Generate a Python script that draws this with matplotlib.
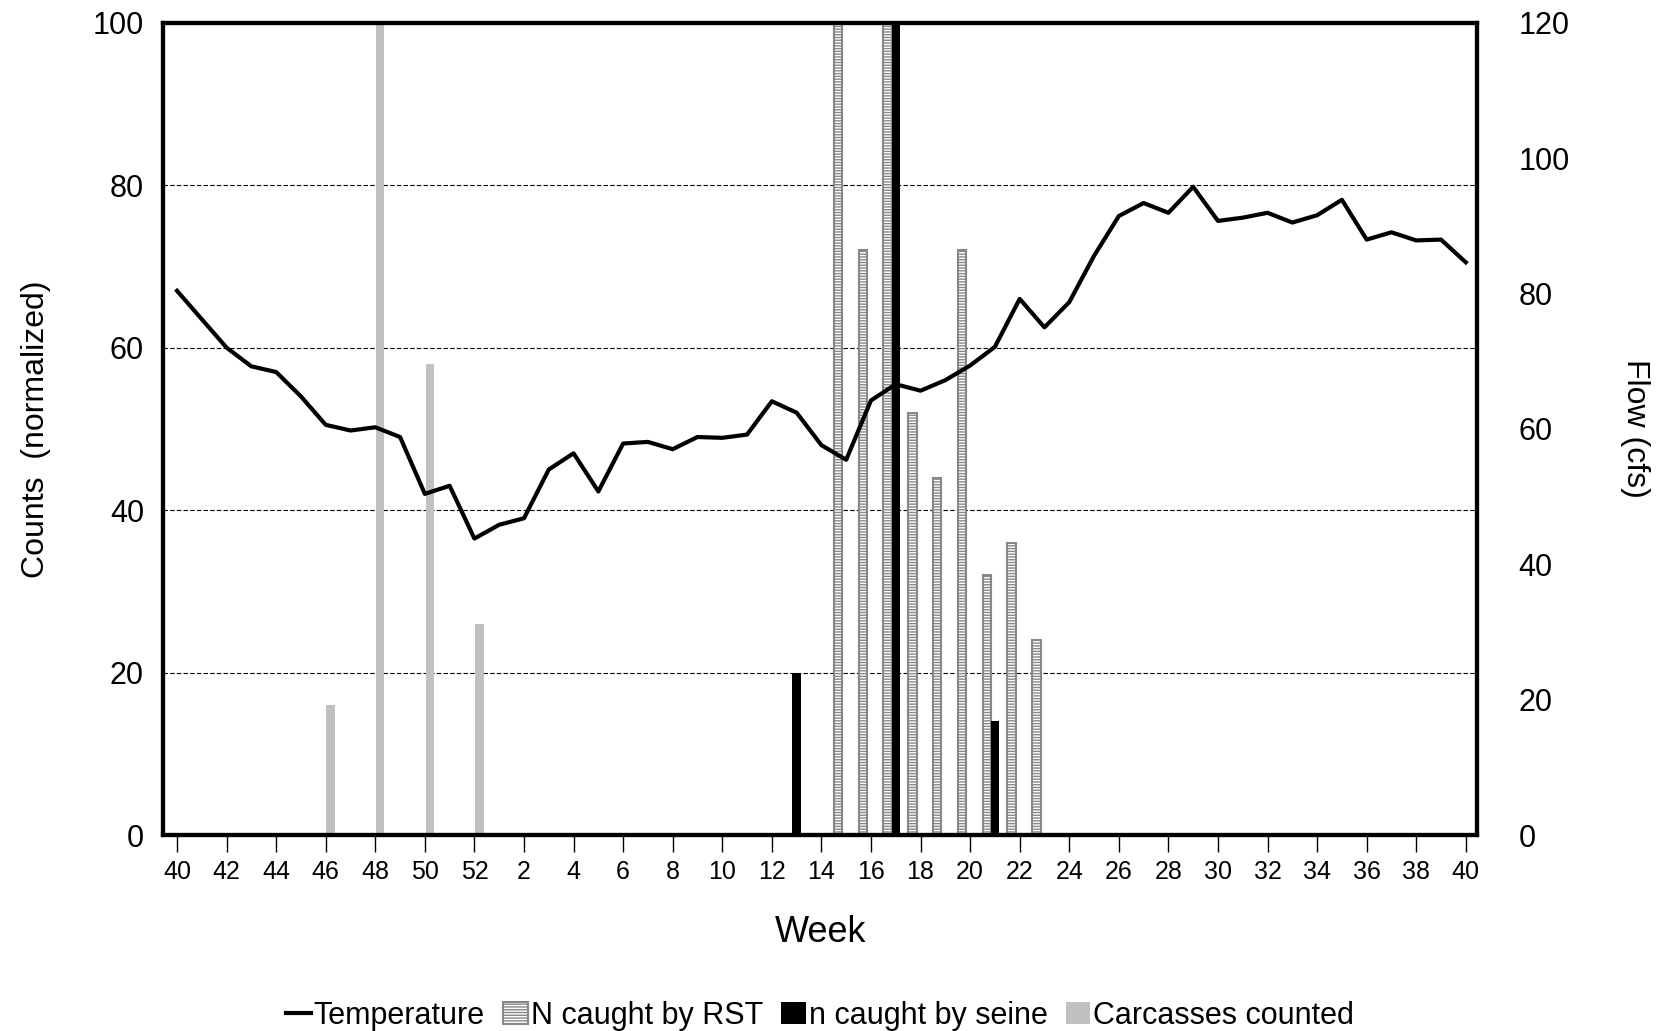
import matplotlib
matplotlib.use("Agg")
import matplotlib.pyplot as plt
import numpy as np

plt.rcParams['font.family'] = ['Liberation Sans', 'DejaVu Sans']
plt.rcParams['hatch.color'] = '#888888'

weeks = list(range(40, 53)) + list(range(1, 41))
temp = [67, 63.5, 60, 57.7, 57, 54, 50.5, 49.8, 50.2, 49, 42, 43, 36.5,
        38.2, 39, 45, 47, 42.3, 48.2, 48.4, 47.5, 49, 48.9, 49.3, 53.4, 52,
        48, 46.2, 53.5, 55.5, 54.7, 56, 57.8, 60.1, 66, 62.5, 65.6, 71.3, 76.2,
        77.8, 76.6, 79.8, 75.6, 76, 76.6, 75.4, 76.3, 78.2, 73.3, 74.2, 73.2, 73.3, 70.5]
rst_weeks = [15, 16, 17, 18, 19, 20, 21, 22, 23]
rst_vals = [110, 72, 110, 52, 44, 72, 32, 36, 24]
seine_weeks = [13, 17, 21]
seine_vals = [20, 110, 14]
carc_weeks = [46, 48, 50, 52]
carc_vals = [16, 110, 58, 26]

def idx(w, season2):
    return weeks.index(w, 13 if season2 else 0)

fig = plt.figure(figsize=(16.67, 10.31), dpi=100)
ax = fig.add_axes([0.098, 0.19, 0.788, 0.788])
x = np.arange(len(weeks))
bw = 0.34
ln, = ax.plot(x, temp, color='black', lw=3, label='Temperature', zorder=4)
b1 = ax.bar([idx(w, True) - 0.33 for w in rst_weeks], rst_vals, bw, facecolor='white',
       edgecolor='#888888', hatch='------', linewidth=1.5, label='N caught by RST', zorder=2)
b2 = ax.bar([idx(w, True) for w in seine_weeks], seine_vals, bw, color='black',
       label='n caught by seine', zorder=3)
b3 = ax.bar([idx(w, False) + 0.2 for w in carc_weeks], carc_vals, bw, color='#c0c0c0',
       label='Carcasses counted', zorder=2)
ax.set_ylim(0, 100)
ax.set_xlim(-0.55, 52.45)
ax.set_yticks(range(0, 101, 20))
ax.set_xticks(x[::2])
ax.set_xticklabels([str(w) for w in weeks[::2]])
for y in [20, 40, 60, 80]:
    ax.axhline(y, color='black', ls=(0, (4, 2)), lw=0.8, zorder=1)
for s in ax.spines.values():
    s.set_linewidth(3)
ax.tick_params(axis='x', labelsize=18, length=12, width=1, direction='out', pad=6)
ax.tick_params(axis='y', labelsize=22, length=0, pad=14)
ax.set_xlabel('Week', fontsize=26, labelpad=22)
ax.set_ylabel('Counts  (normalized)', fontsize=23, labelpad=30)
ax2 = ax.twinx()
ax2.set_ylim(0, 120)
ax2.set_yticks(range(0, 121, 20))
ax2.tick_params(axis='y', labelsize=22, length=0, pad=30)
ax2.set_ylabel('Flow (cfs)', fontsize=23, rotation=270, labelpad=58)
for s in ax2.spines.values():
    s.set_linewidth(3)
ax.legend([ln, b1, b2, b3], ['Temperature', 'N caught by RST', 'n caught by seine', 'Carcasses counted'],
          loc='upper center', bbox_to_anchor=(0.5, -0.17), ncol=4, frameon=False, fontsize=22,
          handlelength=0.8, handletextpad=0.1, columnspacing=0.6)
fig.savefig('out.png')
